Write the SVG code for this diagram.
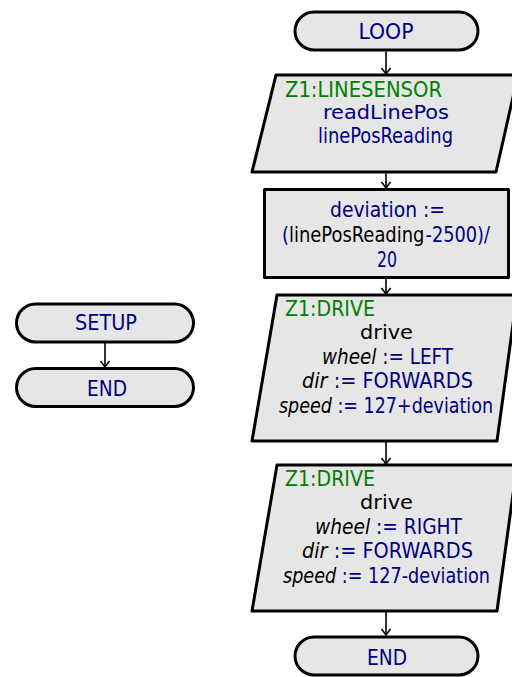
<svg xmlns="http://www.w3.org/2000/svg" width="512" height="677" viewBox="0 0 512 677">
<defs>
<style>
.shape{fill:#e6e6e6;stroke:#000;stroke-width:3;stroke-linejoin:round}
.c{fill:none;stroke:#000;stroke-width:1.6;marker-end:url(#ah)}
text{font-family:"DejaVu Sans Condensed","DejaVu Sans",sans-serif;font-size:21px}
.m{text-anchor:middle}
.w{font-family:"DejaVu Sans",sans-serif;font-size:20px}
.n{fill:#000080}
.g{fill:#008000}
.k{fill:#000}
.i{font-style:italic}
</style>
<marker id="ah" viewBox="-1 -6 10 12" markerWidth="10" markerHeight="12" refX="7" refY="0" orient="auto" markerUnits="userSpaceOnUse">
<path d="M1,-4.5 L7,0 L1,4.5" fill="none" stroke="#000" stroke-width="1.6"/>
</marker>
</defs>
<g id="connectors">
<path class="c" d="M386,51.5 V74"/>
<path class="c" d="M386,173.5 V188"/>
<path class="c" d="M386,279 V294"/>
<path class="c" d="M386,442 V464"/>
<path class="c" d="M386,612 V635"/>
<path class="c" d="M105,343 V367"/>
</g>
<g id="loop">
<rect class="shape" x="295" y="12" width="183" height="38" rx="19"/>
<text class="m n" x="386" y="39" textLength="55" lengthAdjust="spacingAndGlyphs">LOOP</text>
</g>
<g id="read">
<polygon class="shape" points="276,75 518,75 496,172 252,172"/>
<text class="g" x="285" y="97" textLength="157" lengthAdjust="spacingAndGlyphs">Z1:LINESENSOR</text>
<text class="m n w" x="386" y="119" textLength="126" lengthAdjust="spacingAndGlyphs">readLinePos</text>
<text class="m n" x="385.5" y="143" textLength="135" lengthAdjust="spacingAndGlyphs">linePosReading</text>
</g>
<g id="calc">
<rect class="shape" x="264.5" y="189.5" width="244" height="88"/>
<text class="m n" x="387.5" y="217" textLength="115" lengthAdjust="spacingAndGlyphs">deviation :=</text>
<text class="n" x="282" y="242" textLength="7" lengthAdjust="spacingAndGlyphs">(</text>
<text class="k" x="289" y="242" textLength="135.5" lengthAdjust="spacingAndGlyphs">linePosReading</text>
<text class="n" x="425.5" y="242" textLength="64.5" lengthAdjust="spacingAndGlyphs">-2500)/</text>
<text class="m n" x="387" y="267" textLength="20" lengthAdjust="spacingAndGlyphs">20</text>
</g>
<g id="driveLeft">
<polygon class="shape" points="277,295 517,295 497,441 252,441"/>
<text class="g" x="285" y="316" textLength="90" lengthAdjust="spacingAndGlyphs">Z1:DRIVE</text>
<text class="m k w" x="386.5" y="339" textLength="53" lengthAdjust="spacingAndGlyphs">drive</text>
<text class="m n" x="387.5" y="364" textLength="131" lengthAdjust="spacingAndGlyphs"><tspan class="k i">wheel</tspan> := LEFT</text>
<text class="m n" x="387.5" y="388" textLength="171" lengthAdjust="spacingAndGlyphs"><tspan class="k i">dir</tspan> := FORWARDS</text>
<text class="m n" x="386" y="413" textLength="214" lengthAdjust="spacingAndGlyphs"><tspan class="k i">speed</tspan> := 127+deviation</text>
</g>
<g id="driveRight">
<polygon class="shape" points="277,465 517,465 497,611 252,611"/>
<text class="g" x="285" y="486" textLength="90" lengthAdjust="spacingAndGlyphs">Z1:DRIVE</text>
<text class="m k w" x="386.5" y="509" textLength="53" lengthAdjust="spacingAndGlyphs">drive</text>
<text class="m n" x="388.5" y="534" textLength="147" lengthAdjust="spacingAndGlyphs"><tspan class="k i">wheel</tspan> := RIGHT</text>
<text class="m n" x="387.5" y="558" textLength="171" lengthAdjust="spacingAndGlyphs"><tspan class="k i">dir</tspan> := FORWARDS</text>
<text class="m n" x="386.5" y="583" textLength="207" lengthAdjust="spacingAndGlyphs"><tspan class="k i">speed</tspan> := 127-deviation</text>
</g>
<g id="end">
<rect class="shape" x="295" y="637" width="183" height="38" rx="19"/>
<text class="m n" x="387" y="665" textLength="40" lengthAdjust="spacingAndGlyphs">END</text>
</g>
<g id="setup">
<rect class="shape" x="16.5" y="304" width="177" height="38" rx="19"/>
<text class="m n" x="106" y="330" textLength="62" lengthAdjust="spacingAndGlyphs">SETUP</text>
</g>
<g id="setupEnd">
<rect class="shape" x="16.5" y="368.5" width="177" height="38" rx="19"/>
<text class="m n" x="107" y="396" textLength="40" lengthAdjust="spacingAndGlyphs">END</text>
</g>
</svg>
